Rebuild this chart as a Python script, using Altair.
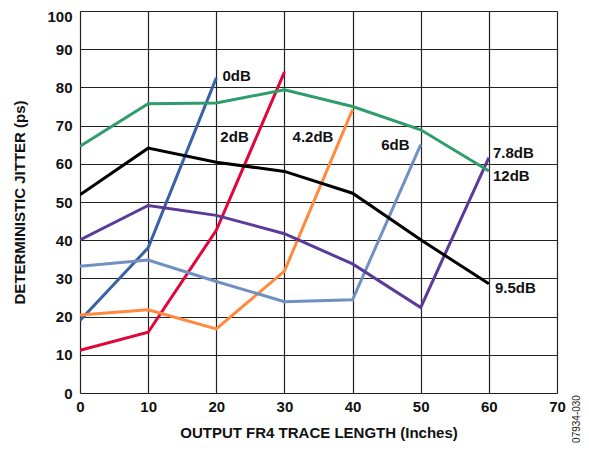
import altair as alt
import pandas as pd

lengths = [0, 10, 20, 30, 40, 50, 60]
series_names = ["0dB", "2dB", "4.2dB", "6dB", "7.8dB", "9.5dB", "12dB"]
jitter_0db = [19.0, 38.0, 82.5]
jitter_2db = [11.2, 15.9, 42.6, 84.0]
jitter_4_2db = [20.4, 21.8, 16.8, 31.9, 74.2]
jitter_6db = [33.2, 34.8, 29.2, 23.9, 24.4, 65.0]
jitter_7_8db = [40.1, 49.1, 46.5, 41.7, 33.8, 22.4, 61.6]
jitter_9_5db = [51.9, 64.1, 60.4, 58.0, 52.3, 40.1, 28.6]
jitter_12db = [64.6, 75.7, 75.9, 79.4, 75.0, 68.9, 58.1]
colors = ["#3b62a6", "#e2053b", "#ff8a3d", "#7190c2", "#5a3a9a", "#000000", "#2f9c6c"]

x_ticks = [0, 10, 20, 30, 40, 50, 60, 70]
y_ticks = [0, 10, 20, 30, 40, 50, 60, 70, 80, 90, 100]

label_x = [20.9, 20.6, 31.2, 44.2, 60.6, 60.9, 60.6]
label_y = [83.1, 66.9, 66.9, 64.8, 62.7, 27.4, 56.7]

all_series = [jitter_0db, jitter_2db, jitter_4_2db, jitter_6db, jitter_7_8db, jitter_9_5db, jitter_12db]
rows = []
for name, vals in zip(series_names, all_series):
    for x, v in zip(lengths, vals):
        rows.append({"series": name, "length": x, "jitter": v})
df = pd.DataFrame(rows)
labels = pd.DataFrame({"series": series_names, "length": label_x, "jitter": label_y})

xscale = alt.Scale(domain=[0, 70], nice=False)
yscale = alt.Scale(domain=[0, 100], nice=False)
cscale = alt.Scale(domain=series_names, range=colors)

common = dict(grid=True, gridColor="#222222", gridWidth=1.2, gridOpacity=1,
              ticks=False, domain=False, labelFont="Liberation Sans", labelFontWeight="bold",
              labelFontSize=15, labelColor="#111111", labelOverlap=False, labelFlush=False,
              titleFont="Liberation Sans", titleFontWeight="bold", titleFontSize=15,
              titleColor="#111111")
xaxis = alt.Axis(title="OUTPUT FR4 TRACE LENGTH (Inches)", values=x_ticks,
                 labelPadding=6, titlePadding=11, **common)
yaxis = alt.Axis(title="DETERMINISTIC JITTER (ps)", values=y_ticks,
                 labelPadding=8, titlePadding=19,
                 labelOffset={"condition": {"test": "datum.value == 100", "value": 5}, "value": 0},
                 **common)

lines = alt.Chart(df).mark_line(strokeWidth=3, clip=True).encode(
    x=alt.X("length:Q", scale=xscale, axis=xaxis),
    y=alt.Y("jitter:Q", scale=yscale, axis=yaxis),
    color=alt.Color("series:N", scale=cscale, legend=None),
    detail="series:N",
)

texts = alt.Chart(labels).mark_text(
    align="left", baseline="middle", font="Liberation Sans", fontWeight="bold", fontSize=15, color="#111111"
).encode(
    x=alt.X("length:Q", scale=xscale, axis=xaxis),
    y=alt.Y("jitter:Q", scale=yscale, axis=yaxis),
    text="series:N",
)

code = alt.Chart(pd.DataFrame({"t": ["07934-030"]})).mark_text(
    angle=270, align="center", baseline="middle", font="Liberation Sans", fontSize=10, color="#222222"
).encode(
    x=alt.value(497), y=alt.value(408), text="t:N"
)

chart = alt.layer(lines, texts, code).properties(
    width=477, height=382,
    padding={"left": 72, "top": 3, "right": 24, "bottom": 51},
    autosize=alt.AutoSizeParams(type="none"),
).configure_view(stroke="#111111", strokeWidth=2).configure(background="white")

chart.save("out.html", embed_options={"renderer": "svg", "actions": False})
